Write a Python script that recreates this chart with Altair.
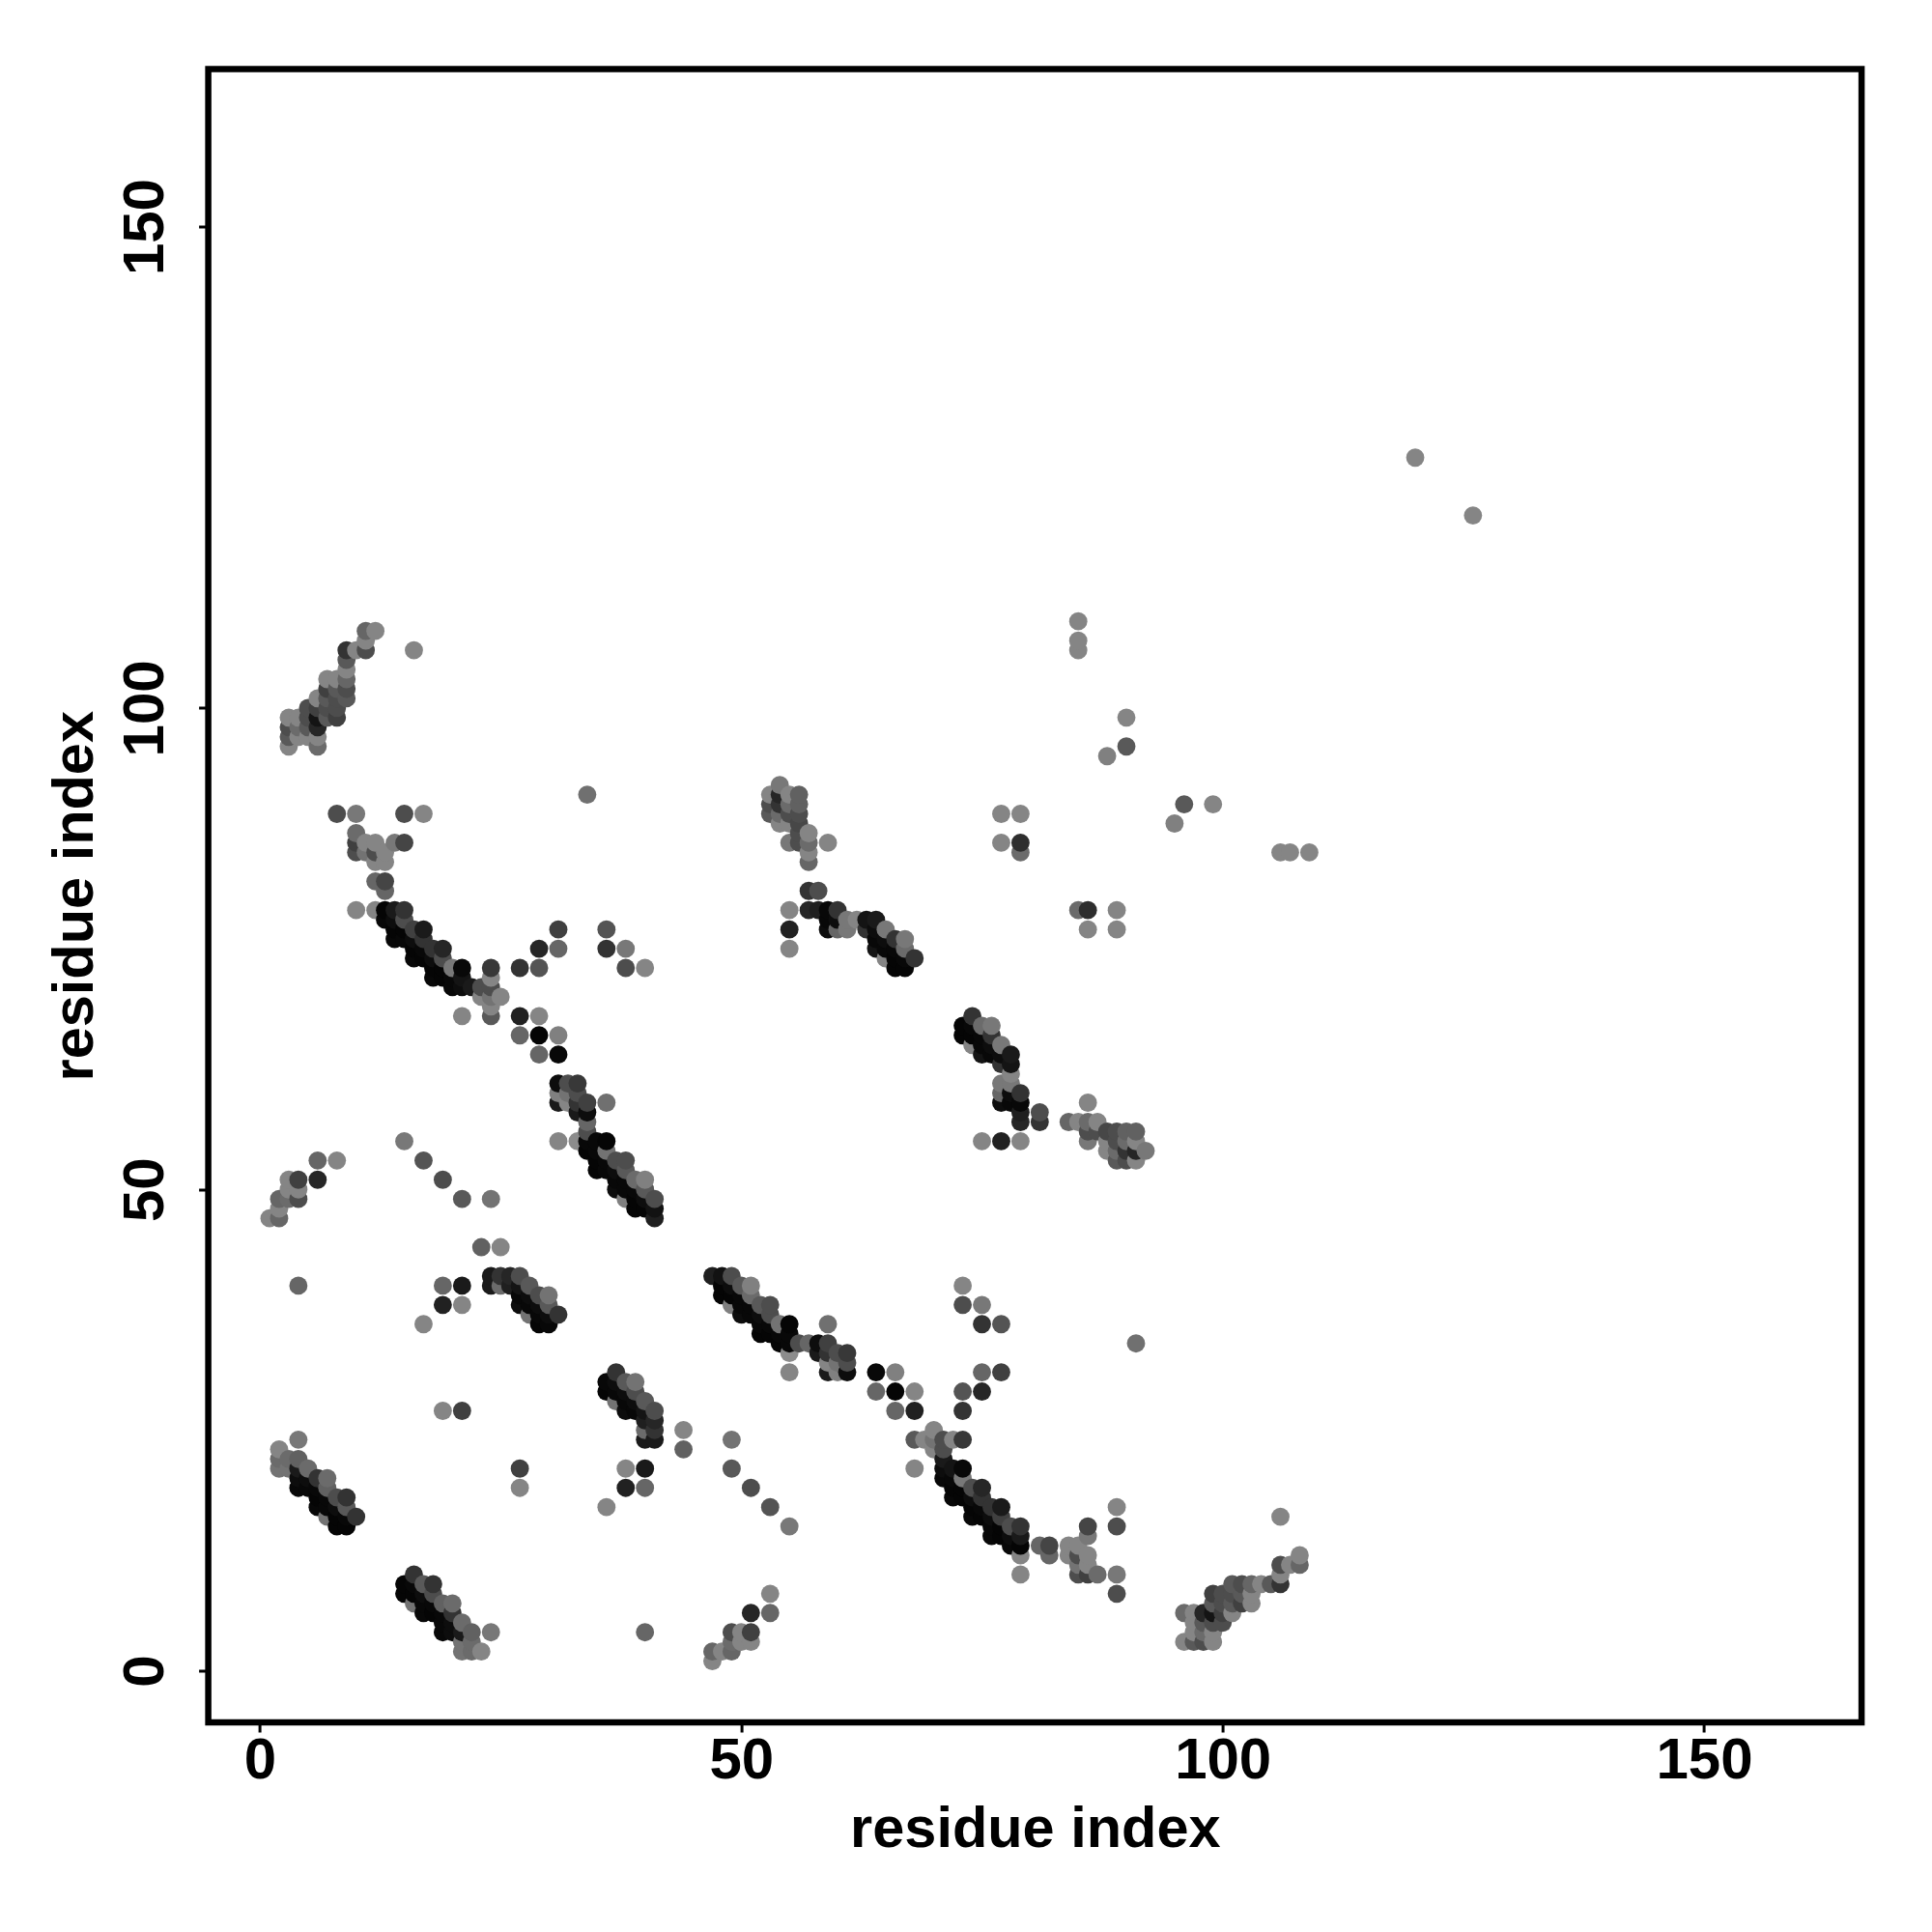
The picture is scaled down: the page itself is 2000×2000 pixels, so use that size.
import altair as alt
import pandas as pd

# contacts (residue i, residue j, gray level); the map is symmetric
far_contacts = [(120,126,.52),(85,106,.52),(85,107,.52),(85,109,.52),(90,96,.35),(90,99,.52),(88,95,.5),
    (34,91,.44),(16,106,.52),(4,40,.4),(77,89,.52),(79,89,.52),(77,86,.52),(79,86,.18),(79,85,.42)]
n_term_sheet = [(11,108,.4),(12,108,.52),(11,107,.52),(9,106,.2),(10,106,.52),(11,106,.3),(9,105,.35),(9,104,.52),
    (7,103,.52),(8,103,.52),(9,103,.4),(7,102,.25),(8,102,.35),(9,102,.3),(6,101,.52),(7,101,.35),(8,101,.3),(9,101,.35),
    (5,100,.3),(6,100,.25),(7,100,.3),(8,100,.3),(3,99,.52),(4,99,.52),(5,99,.3),(6,99,.08),(7,99,.35),(8,99,.25),
    (3,98,.3),(4,98,.42),(5,98,.35),(6,98,.15),(3,97,.35),(4,97,.52),(5,97,.52),(6,97,.52),(3,96,.52),(6,96,.42)]
hairpin = [(4,24,.47),(2,23,.52),(2,22,.42),(3,22,.42),(4,22,.38),(2,21,.45),(3,21,.45),(4,21,.1),(5,21,.42),
    (4,20,.05),(5,20,.05),(6,20,.2),(7,20,.42),(4,19,.03),(5,19,.03),(6,19,.03),(7,19,.38),
    (6,18,.02),(7,18,.03),(8,18,.3),(9,18,.2),(6,17,.03),(7,17,.03),(8,17,.05),(9,17,.35),
    (7,16,.45),(8,16,.02),(9,16,.03),(10,16,.2),(8,15,.02),(9,15,.02)]
sheet_47 = [(1,47,.52),(2,47,.4),(2,48,.52),(2,49,.4),(3,49,.42),(4,49,.3),(3,50,.52),(4,50,.52),(3,51,.52),(4,51,.25),
    (6,51,.15),(6,53,.4),(8,53,.52)]
pattern_mid = [(15,55,.47),(17,53,.33),(19,51,.3),(21,49,.35),(24,49,.45),(23,44,.38),(25,44,.52),
    (19,40,.4),(21,40,.1),(19,38,.13),(21,38,.52),(17,36,.52),(19,27,.52),(21,27,.25)]
upper_left = [(8,89,.3),(10,89,.47),(15,89,.3),(17,89,.52),(10,87,.42),(10,86,.25),(11,86,.52),(12,86,.52),(14,86,.47),(15,86,.27),
    (10,85,.3),(11,85,.45),(12,85,.3),(13,85,.52),(12,84,.52),(13,84,.52),(12,82,.4),(13,82,.27),(13,81,.4)]
band_a = [(10,79,.52),(12,79,.52),(13,79,.02),(14,79,.1),(15,79,.2),(13,78,.03),(14,78,.05),(15,78,.3),
    (14,77,.02),(15,77,.02),(16,77,.25),(17,77,.1),(14,76,.03),(15,76,.03),(16,76,.05),(17,76,.2),
    (16,75,.02),(17,75,.03),(18,75,.2),(19,75,.15),(16,74,.03),(17,74,.02),(18,74,.05),(19,74,.3),
    (18,73,.02),(19,73,.02),(20,73,.47),(21,73,.03),(18,72,.03),(19,72,.02),(20,72,.03),(21,72,.08),
    (20,71,.03),(21,71,.05),(22,71,.1),(23,71,.3)]
band_b = [(24,73,.22),(24,72,.52),(24,71,.3),(23,70,.52),(24,70,.45),(25,70,.52),(24,69,.52),(21,68,.52),(24,68,.35),
    (27,68,.13),(29,68,.52),(27,66,.4),(29,66,.02),(31,66,.5),(29,64,.4),(31,64,.03),
    (27,73,.2),(29,73,.33),(29,75,.15),(31,75,.4),(31,77,.25),(36,77,.33),(36,75,.2),(38,75,.47),(38,73,.3),(40,73,.52)]
band_c = [(31,61,.05),(32,61,.3),(33,61,.22),(31,60,.5),(32,60,.45),(33,60,.3),(31,59,.1),(32,59,.52),(33,59,.2),(34,59,.25),(36,59,.44),
    (33,58,.1),(34,58,.05),(34,57,.4),(34,56,.3),(31,55,.52),(33,55,.55),(34,55,.03),(35,55,.03),(36,55,.02),
    (34,54,.02),(35,54,.03),(36,54,.45),(35,53,.02),(36,53,.03),(37,53,.3),(38,53,.3),(35,52,.02),(36,52,.03),(37,52,.05),(38,52,.35),
    (37,51,.03),(38,51,.03),(39,51,.42),(40,51,.5),(37,50,.05),(38,50,.03),(39,50,.03),(40,50,.35),
    (38,49,.5),(39,49,.02),(40,49,.05),(41,49,.3),(39,48,.02),(40,48,.02),(41,48,.07),(41,47,.12)]
band_d = [(24,41,.1),(25,41,.2),(26,41,.15),(27,41,.3),(24,40,.1),(25,40,.42),(26,40,.12),(27,40,.08),(28,40,.35),
    (27,39,.03),(28,39,.05),(29,39,.3),(30,39,.45),(27,38,.05),(28,38,.03),(29,38,.05),(30,38,.35),
    (28,37,.45),(29,37,.03),(30,37,.05),(31,37,.2),(29,36,.02),(30,36,.03)]
band_e = [(54,92,.47),(53,91,.52),(54,91,.15),(55,91,.52),(56,91,.38),(53,90,.3),(54,90,.2),(55,90,.42),(56,90,.38),
    (53,89,.35),(54,89,.42),(55,89,.3),(56,89,.3),(54,88,.52),(55,88,.52),(56,88,.28),(56,87,.3),(57,87,.52),
    (55,86,.47),(56,86,.3),(57,86,.42),(59,86,.52),(57,85,.52),(57,84,.4)]
band_f = [(57,81,.2),(58,81,.3),(55,79,.52),(57,79,.15),(58,79,.12),(59,79,.03),(60,79,.2),
    (59,78,.03),(60,78,.05),(61,78,.47),(62,78,.52),(63,78,.08),(64,78,.1),(55,77,.13),(59,77,.05),(60,77,.4),(61,77,.47),
    (63,77,.2),(64,77,.05),(65,77,.47),(64,76,.03),(65,76,.05),(66,76,.2),(67,76,.47),
    (55,75,.52),(64,75,.08),(65,75,.03),(66,75,.03),(67,75,.42),(65,74,.52),(66,74,.02),(67,74,.03),(68,74,.2),(66,73,.02),(67,73,.02)]

AXIS_TICKS = [0, 50, 100, 150]
X_TITLE = "residue index"
Y_TITLE = "residue index"
FONT = "Liberation Sans"

contacts = (far_contacts + n_term_sheet + hairpin + sheet_47 + pattern_mid + upper_left
            + band_a + band_b + band_c + band_d + band_e + band_f)
rows = [(i, j, g) for i, j, g in contacts] + [(j, i, g) for i, j, g in contacts]
df = pd.DataFrame(rows, columns=["x", "y", "g"]).sort_values(["x", "y"]).reset_index(drop=True)

dom = [-5.36, 166.36]
axis_common = dict(values=AXIS_TICKS, grid=False, domain=False, ticks=True, tickColor="black", tickWidth=3, tickSize=10,
                   labelFont=FONT, labelFontWeight="bold", labelFontSize=60, labelColor="black",
                   titleFont=FONT, titleFontWeight="bold", titleFontSize=59.5, titleColor="black", labelFlush=False, labelOverlap=False)

chart = (
    alt.Chart(df, background="white")
    .mark_circle(size=355, opacity=1)
    .encode(
        x=alt.X("x:Q", scale=alt.Scale(domain=dom, nice=False, zero=False),
                axis=alt.Axis(title=X_TITLE, labelPadding=1, titlePadding=12, format="d", **axis_common)),
        y=alt.Y("y:Q", scale=alt.Scale(domain=dom, nice=False, zero=False),
                axis=alt.Axis(title=Y_TITLE, labelAngle=270, labelAlign="center", labelBaseline="bottom",
                              labelPadding=24, titlePadding=13, format="d", **axis_common)),
        color=alt.Color("g:Q", scale=alt.Scale(domain=[0, 1], range=["#000000", "#ffffff"], interpolate="rgb"), legend=None),
    )
    .properties(width=1711.5, height=1711.5, autosize="none",
                padding={"left": 207.6, "top": 63.5, "right": 60, "bottom": 190})
    .configure_view(stroke="#000000", strokeWidth=6.5, fill="white")
)
chart.save("out.html", embed_options={"renderer": "svg", "actions": False})
